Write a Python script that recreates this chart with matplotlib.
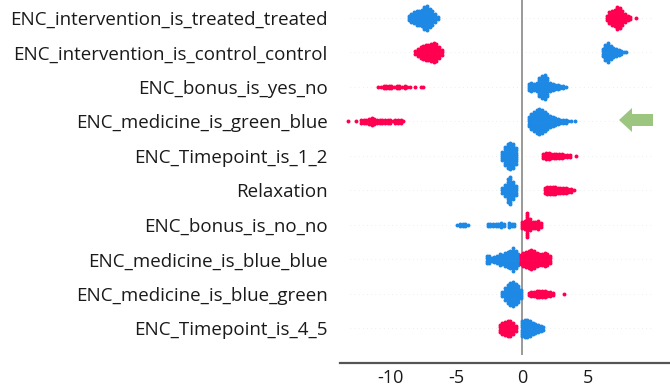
import numpy as np
import matplotlib.pyplot as plt
from matplotlib.patches import FancyArrow

plt.rcParams["font.family"] = ["Open Sans", "DejaVu Sans"]

# feature names, top to bottom
features = [
    "ENC_intervention_is_treated_treated",
    "ENC_intervention_is_control_control",
    "ENC_bonus_is_yes_no",
    "ENC_medicine_is_green_blue",
    "ENC_Timepoint_is_1_2",
    "Relaxation",
    "ENC_bonus_is_no_no",
    "ENC_medicine_is_blue_blue",
    "ENC_medicine_is_blue_green",
    "ENC_Timepoint_is_4_5",
]

# SHAP value bins: (shap value, number of stacked dots)
# "low" = low feature value (blue), "high" = high feature value (red)
treated_low = [(-8.6, 3), (-8.4, 5), (-8.2, 6), (-8.0, 7), (-7.8, 7), (-7.6, 8),
               (-7.4, 11), (-7.2, 12), (-7.0, 9), (-6.8, 7), (-6.6, 5), (-6.4, 2)]
treated_high = [(6.4, 3), (6.6, 6), (6.8, 7), (7.0, 8), (7.2, 11), (7.4, 10),
                (7.6, 7), (7.8, 5), (8.0, 3), (8.2, 2), (8.6, 1)]
control_low = [(6.1, 4), (6.3, 8), (6.5, 10), (6.7, 7), (6.9, 5), (7.1, 4),
               (7.3, 3), (7.5, 2), (7.7, 1), (7.9, 1)]
control_high = [(-8.1, 2), (-7.9, 4), (-7.7, 6), (-7.5, 7), (-7.3, 8), (-7.1, 8),
                (-6.9, 9), (-6.7, 10), (-6.5, 9), (-6.3, 6), (-6.1, 3)]
bonus_yes_low = [(0.5, 4), (0.7, 5), (0.9, 4), (1.1, 5), (1.3, 9), (1.5, 11),
                 (1.7, 12), (1.9, 9), (2.1, 5), (2.3, 4), (2.5, 3), (2.7, 3),
                 (2.9, 2), (3.1, 2), (3.3, 1)]
bonus_yes_high = [(-10.9, 1), (-10.7, 1), (-10.5, 2), (-10.3, 2), (-10.1, 2),
                  (-9.9, 2), (-9.7, 1), (-9.5, 2), (-9.3, 2), (-9.1, 1), (-8.9, 2),
                  (-8.7, 1), (-8.5, 1), (-8.1, 1), (-7.7, 1), (-7.5, 1)]
green_blue_low = [(0.5, 5), (0.7, 8), (0.9, 10), (1.1, 11), (1.3, 12), (1.5, 11),
                  (1.7, 10), (1.9, 8), (2.1, 6), (2.3, 5), (2.5, 4), (2.7, 3),
                  (2.9, 2), (3.1, 2), (3.3, 2), (3.5, 1), (3.7, 1), (4.0, 1)]
green_blue_high = [(-13.2, 1), (-12.6, 1), (-12.2, 2), (-12.0, 2), (-11.8, 2),
                   (-11.6, 3), (-11.4, 4), (-11.2, 3), (-11.0, 2), (-10.8, 2),
                   (-10.6, 2), (-10.4, 2), (-10.2, 2), (-10.0, 2), (-9.8, 1),
                   (-9.6, 2), (-9.4, 2), (-9.2, 2), (-9.0, 1)]
tp12_low = [(-1.5, 5), (-1.3, 9), (-1.1, 12), (-0.9, 13), (-0.7, 12), (-0.5, 8)]
tp12_high = [(1.6, 3), (1.8, 4), (2.0, 4), (2.2, 3), (2.4, 3), (2.6, 3), (2.8, 3),
             (3.0, 3), (3.2, 2), (3.4, 2), (3.6, 2), (4.1, 1)]
relax_low = [(-1.5, 3), (-1.3, 6), (-1.1, 11), (-0.9, 13), (-0.7, 9), (-0.5, 5)]
relax_high = [(1.7, 3), (1.9, 4), (2.1, 4), (2.3, 4), (2.5, 4), (2.7, 3), (2.9, 3),
              (3.1, 3), (3.3, 3), (3.5, 2), (3.7, 2), (3.9, 1)]
bonus_no_low = [(-4.9, 1), (-4.7, 2), (-4.5, 2), (-4.3, 2), (-4.1, 1),
                (-2.6, 2), (-2.4, 2), (-2.2, 2), (-2.0, 2), (-1.8, 2), (-1.6, 3),
                (-1.4, 2), (-1.0, 3), (-0.8, 2), (-0.6, 2)]
bonus_no_high = [(0.0, 4), (0.2, 5), (0.4, 12), (0.6, 6), (0.8, 4), (1.0, 4),
                 (1.2, 5), (1.4, 3)]
blue_blue_low = [(-2.7, 4), (-2.5, 4), (-2.3, 2), (-2.1, 3), (-1.9, 4), (-1.7, 6),
                 (-1.5, 5), (-1.3, 7), (-1.1, 8), (-0.9, 9), (-0.7, 11), (-0.5, 9),
                 (-0.3, 6)]
blue_blue_high = [(-0.1, 5), (0.1, 7), (0.3, 8), (0.5, 9), (0.7, 10), (0.9, 9),
                  (1.1, 7), (1.3, 6), (1.5, 6), (1.7, 7), (1.9, 6), (2.1, 4)]
blue_green_low = [(-1.5, 3), (-1.3, 6), (-1.1, 9), (-0.9, 11), (-0.7, 12),
                  (-0.5, 10), (-0.3, 8), (-0.1, 5)]
blue_green_high = [(0.5, 2), (0.7, 3), (0.9, 3), (1.1, 4), (1.3, 4), (1.5, 4),
                   (1.7, 4), (1.9, 3), (2.1, 3), (2.3, 2), (3.2, 1)]
tp45_low = [(0.0, 8), (0.2, 9), (0.4, 9), (0.6, 8), (0.8, 6), (1.0, 5), (1.2, 4),
            (1.4, 3), (1.6, 2)]
tp45_high = [(-1.7, 4), (-1.5, 6), (-1.3, 7), (-1.1, 8), (-0.9, 8), (-0.7, 6),
             (-0.5, 3)]

low_bins = [treated_low, control_low, bonus_yes_low, green_blue_low, tp12_low,
            relax_low, bonus_no_low, blue_blue_low, blue_green_low, tp45_low]
high_bins = [treated_high, control_high, bonus_yes_high, green_blue_high, tp12_high,
             relax_high, bonus_no_high, blue_blue_high, blue_green_high, tp45_high]

xticks = [-10, -5, 0, 5]

blue = "#1E88E5"
red = "#FF0051"

fig = plt.figure(figsize=(6.7, 3.89), dpi=100)
ax = fig.add_axes([340 / 670, 26 / 389, 330 / 670, 363 / 389])

n_feat = len(features)
ypos = np.arange(n_feat)[::-1]
dy = 0.064


def swarm(bins, y0):
    xs, ys = [], []
    for xv, n in bins:
        for j in range(n):
            xs.append(xv)
            ys.append(y0 + (j - (n - 1) / 2) * dy)
    return xs, ys


for i in range(n_feat):
    ax.axhline(ypos[i], xmin=0.03, xmax=0.95, color="#dddddd", lw=0.5,
               dashes=(1, 5), zorder=-1)
    for bins, c in ((low_bins[i], blue), (high_bins[i], red)):
        xs, ys = swarm(bins, ypos[i])
        ax.scatter(xs, ys, s=8, color=c, linewidths=0, zorder=3)

ax.vlines(0, -0.78, 9.6, color="#999999", lw=1.4, zorder=1)

ax.set_xlim(-13.8, 11.2)
ax.set_ylim(-1.0, 9.52)
ax.set_yticks(ypos)
ax.set_yticklabels(features, fontsize=13.5, color="#1a1a1a")
ax.set_xticks(xticks)
ax.set_xticklabels([str(t) for t in xticks], fontsize=13, color="#1a1a1a")
ax.tick_params(axis="y", length=0, pad=9)
ax.tick_params(axis="x", length=0, pad=4)
for s in ("top", "right", "left"):
    ax.spines[s].set_visible(False)
ax.spines["bottom"].set_color("#555555")
ax.spines["bottom"].set_linewidth(1.6)

# green arrow pointing at ENC_medicine_is_green_blue
arrow = FancyArrow(653 / 670, 1 - 120 / 389, -34 / 670, 0, width=12 / 389,
                   head_width=24 / 389, head_length=13 / 670,
                   length_includes_head=True, transform=fig.transFigure,
                   color="#9CC57F", lw=0)
fig.add_artist(arrow)

fig.savefig("out.png", dpi=100)
